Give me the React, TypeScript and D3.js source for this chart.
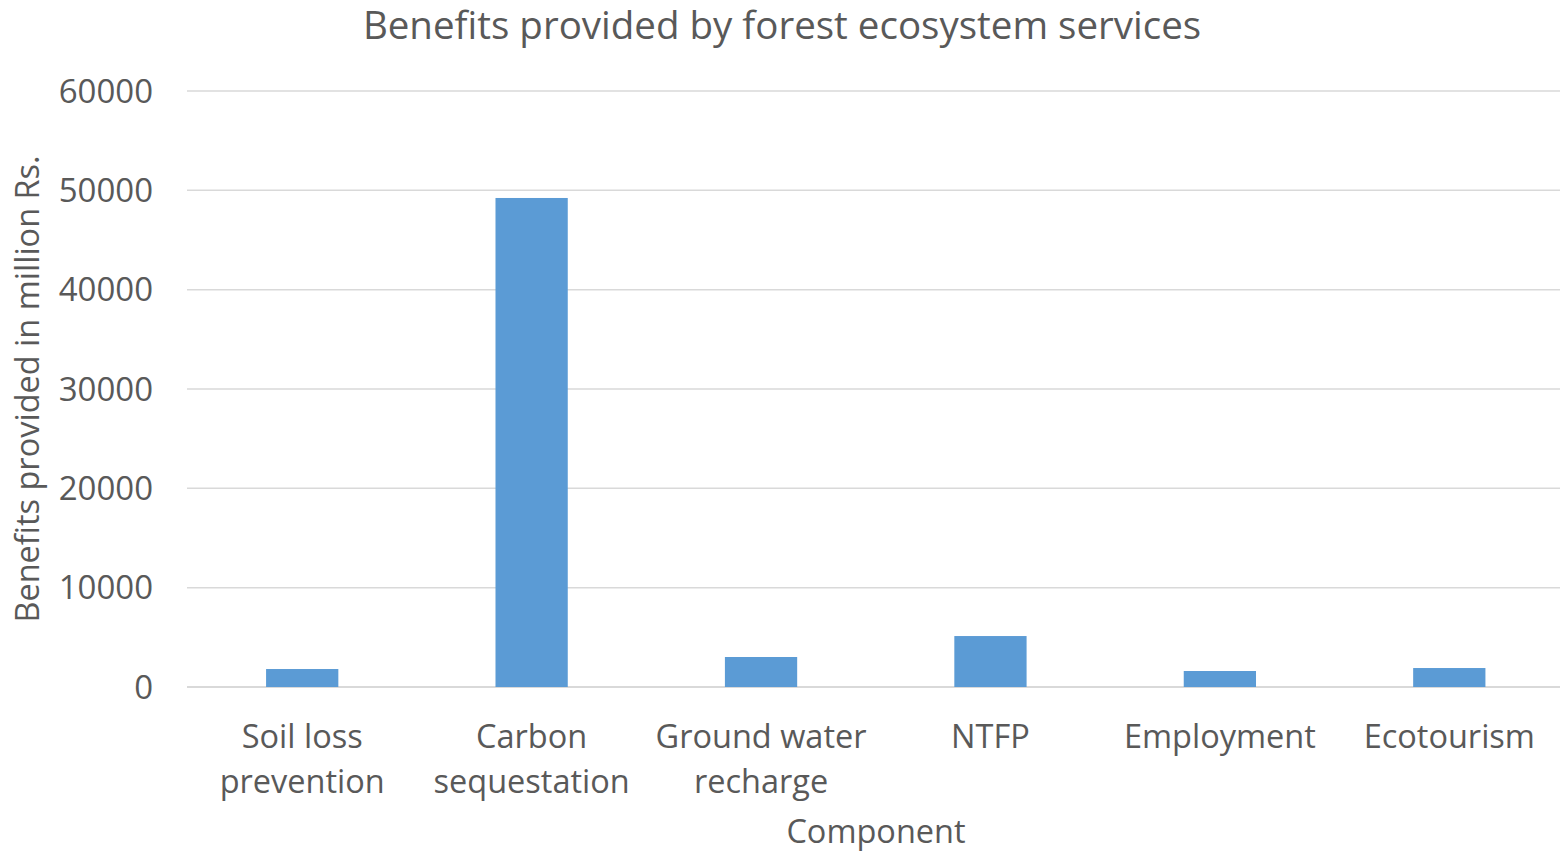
import React from "react";
import * as d3 from "d3";

const categories: string[][] = [
  ["Soil loss", "prevention"],
  ["Carbon", "sequestation"],
  ["Ground water", "recharge"],
  ["NTFP"],
  ["Employment"],
  ["Ecotourism"],
];
const values: number[] = [1810, 49230, 3020, 5130, 1610, 1910];
const yTicks: number[] = [0, 10000, 20000, 30000, 40000, 50000, 60000];
const title = "Benefits provided by forest ecosystem services";
const yTitle = "Benefits provided in million Rs.";
const xTitle = "Component";

const W = 1560;
const H = 853;
const FONT = "'Open Sans', sans-serif";
const TEXT = "#595959";

export default function App() {
  const left = 187.5, right = 1564, top = 91, bottom = 687;
  const x = d3.scaleBand<number>().domain(d3.range(categories.length)).range([left, right]).padding(0);
  const y = d3.scaleLinear().domain([0, 60000]).range([bottom, top]);
  const barW = x.bandwidth() * 0.315;
  return (
    <svg width={W} height={H} style={{ position: "absolute", left: 0, top: 0, background: "#fff" }}>
      <rect width={W} height={H} fill="#fff" />
      <text x={782} y={39} textAnchor="middle" fontFamily={FONT} fontSize={38.5} fill={TEXT}>{title}</text>
      {yTicks.map((t) => (
        <g key={t}>
          <line x1={187} x2={1560} y1={y(t)} y2={y(t)} stroke="#d9d9d9" strokeWidth={t === 0 ? 2 : 1.5} />
          <text x={153} y={y(t)} dy="0.35em" textAnchor="end" fontFamily={FONT} fontSize={33} fill={TEXT}>{t}</text>
        </g>
      ))}
      {values.map((v, i) => (
        <rect key={i} x={(x(i) as number) + x.bandwidth() / 2 - barW / 2} y={y(v)} width={barW} height={y(0) - y(v)} fill="#5b9bd5" />
      ))}
      {categories.map((lines, i) => (
        <text key={i} x={(x(i) as number) + x.bandwidth() / 2} y={748} textAnchor="middle" fontFamily={FONT} fontSize={32.5} fill={TEXT}>
          {lines.map((l, j) => (
            <tspan key={j} x={(x(i) as number) + x.bandwidth() / 2} dy={j === 0 ? 0 : 45}>{l}</tspan>
          ))}
        </text>
      ))}
      <text x={876} y={843} textAnchor="middle" fontFamily={FONT} fontSize={32.5} fill={TEXT}>{xTitle}</text>
      <text transform={`translate(39,389) rotate(-90)`} textAnchor="middle" fontFamily={FONT} fontSize={32.5} fill={TEXT}>{yTitle}</text>
    </svg>
  );
}
